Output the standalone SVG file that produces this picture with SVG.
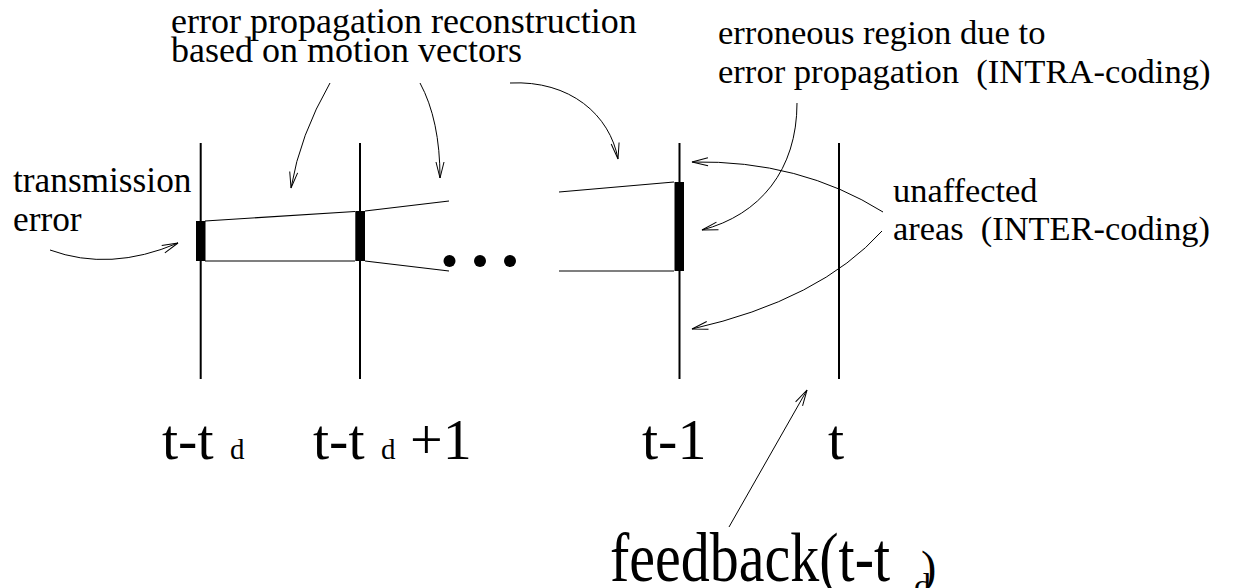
<svg xmlns="http://www.w3.org/2000/svg" width="1242" height="588" viewBox="0 0 1242 588">
<defs>
<style>
.t{font-family:"Liberation Serif","Times New Roman",serif;fill:#000}
.s{font-size:36px}
.b{font-size:58px}
.sub{font-size:29px}
.frame{stroke:#000;stroke-width:2;fill:none}
.edge{stroke:#000;stroke-width:1.2;fill:none}
.arr{stroke:#000;stroke-width:1;fill:none;marker-end:url(#ah)}
.bar{fill:#000}
</style>
<marker id="ah" markerUnits="userSpaceOnUse" markerWidth="18" markerHeight="10" refX="16" refY="4" orient="auto" overflow="visible">
<path d="M0,0 L16,4 L0,8" fill="none" stroke="#000" stroke-width="1"/>
</marker>
</defs>
<rect width="1242" height="588" fill="#fff"/>

<g id="frame-t-td">
<line class="frame" x1="200.7" y1="143" x2="200.7" y2="379"/>
<rect class="bar" x="196" y="221" width="9.5" height="40"/>
<text class="t b" x="162" y="459">t-t</text><text class="t sub" x="230" y="459">d</text>
</g>
<g id="frame-t-td1">
<line class="frame" x1="360" y1="143" x2="360" y2="379"/>
<rect class="bar" x="355.3" y="211" width="9.7" height="50"/>
<text class="t b" x="313" y="459">t-t</text><text class="t sub" x="381" y="459">d</text><text class="t b" x="410" y="459">+1</text>
</g>
<g id="frame-t-1">
<line class="frame" x1="679.5" y1="143" x2="679.5" y2="379"/>
<rect class="bar" x="674.5" y="182" width="9.5" height="89"/>
<text class="t b" x="642" y="459">t-1</text>
</g>
<g id="frame-t">
<line class="frame" x1="839" y1="143" x2="839" y2="379"/>
<text class="t b" x="828" y="459">t</text>
</g>
<g id="dots">
<circle cx="449.5" cy="261" r="6"/>
<circle cx="480" cy="261" r="6"/>
<circle cx="510" cy="261" r="6"/>
</g>

<g id="label-reconstruction">
<text class="t s" x="171" y="33">error propagation reconstruction</text>
<text class="t s" x="171" y="62">based on motion vectors</text>
</g>
<g id="label-erroneous">
<text class="t" style="font-size:34.6px" x="718" y="44">erroneous region due to</text>
<text class="t" style="font-size:34.6px" x="718" y="83" xml:space="preserve">error propagation  (INTRA-coding)</text>
</g>
<g id="label-unaffected">
<text class="t" style="font-size:34.4px" x="893" y="202">unaffected</text>
<text class="t" style="font-size:34.4px" x="893" y="240" xml:space="preserve">areas  (INTER-coding)</text>
</g>
<g id="label-transmission">
<text class="t" style="font-size:35.3px" x="13" y="192">transmission</text>
<text class="t" style="font-size:35.3px" x="13" y="231">error</text>
</g>
<g id="label-feedback">
<text class="t b" transform="translate(610,581) scale(1,1.22)">feedback(t-t</text>
<text class="t" style="font-size:34px" x="914" y="597">d</text>
<text class="t" style="font-size:46px" x="921" y="583">)</text>
</g>

<g id="connectors">
<line class="edge" x1="205" y1="221" x2="355" y2="211.5"/>
<line class="edge" x1="365" y1="211" x2="449" y2="201"/>
<line class="edge" x1="205" y1="261" x2="355" y2="261"/>
<line class="edge" x1="365" y1="261" x2="449" y2="271"/>
<line class="edge" x1="559" y1="192" x2="674" y2="182"/>
<line class="edge" x1="559" y1="271" x2="674" y2="271"/>
<path class="arr" d="M50,250 Q110,272 178,243"/>
<path class="arr" d="M330,83 Q300,135 291,188"/>
<path class="arr" d="M420,83 Q440,120 440,178"/>
<path class="arr" d="M510,83 C570,80 610,115 618,159"/>
<path class="arr" d="M797,103 C797,170 760,215 702,230"/>
<path class="arr" d="M883,212 Q800,160 692,162"/>
<path class="arr" d="M882,231 Q820,300 692,329"/>
<path class="arr" d="M729,527 L807,390"/>
</g>
</svg>
